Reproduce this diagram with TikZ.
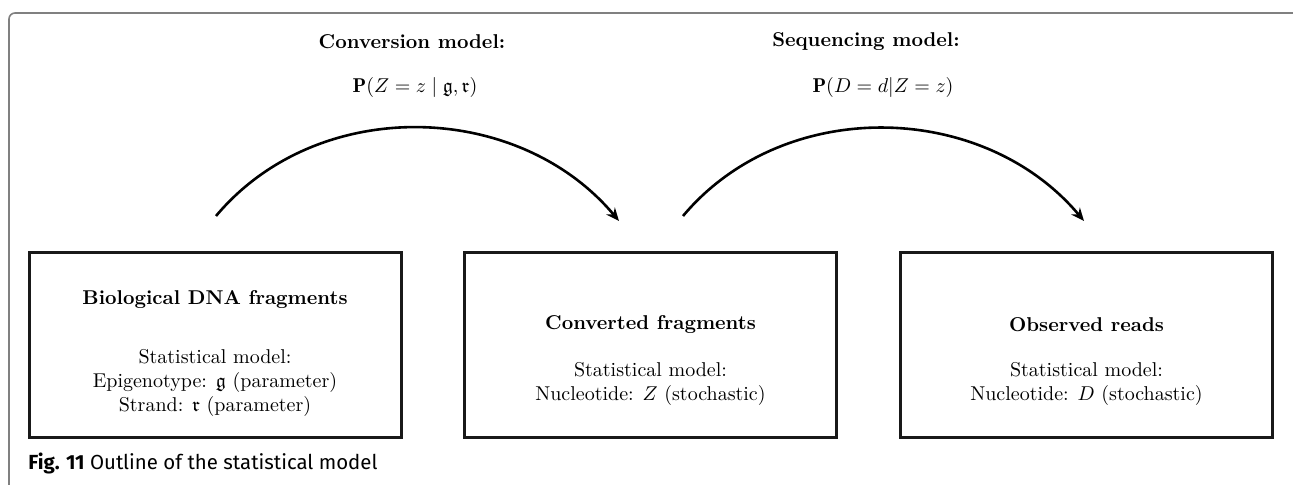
\documentclass[tikz,border=0pt]{standalone}
\usepackage{amsmath,amssymb}
\usepackage{fontspec}
\newfontfamily\capfont{Fira Sans}
\usetikzlibrary{arrows.meta}
\begin{document}
\begin{tikzpicture}[x=0.5pt,y=-0.5pt,
  modelbox/.style={draw=black!90,line width=1.5pt,minimum width=186pt,minimum height=92pt,inner sep=0pt},
  flow/.style={line width=1.3pt,-{Stealth[length=6.5pt,width=5.5pt]}},
  frame/.style={draw=black!50,line width=0.8pt,rounded corners=3pt},
  boxtext/.style={align=center,font=\normalsize}]
\useasboundingbox (0,0) rectangle (1293,485);
\clip (0,0) rectangle (1293,485);
\draw[frame] (9,490) -- (9,13) -- (1299,13) -- (1299,490);
% boxes
\node[modelbox] (bio) at (215,345) {};
\node[modelbox] (conv) at (650.5,345) {};
\node[modelbox] (obs) at (1086.5,345) {};
% box texts
\node[font=\bfseries] (biot) at (215,300) {Biological DNA fragments};
\node[boxtext] (biom) at (215,383) {Statistical model:\\Epigenotype: $\mathfrak{g}$ (parameter)\\Strand: $\mathfrak{r}$ (parameter)};
\node[font=\bfseries] (convt) at (650.5,325) {Converted fragments};
\node[boxtext] (convm) at (650.5,384) {Statistical model:\\Nucleotide: $Z$ (stochastic)};
\node[font=\bfseries] (obst) at (1086.5,325) {Observed reads};
\node[boxtext] (obsm) at (1086.5,384) {Statistical model:\\Nucleotide: $D$ (stochastic)};
% model labels
\node[font=\bfseries] (cl) at (412,42) {Conversion model:};
\node (cp) at (415,88) {$\mathbf{P}(Z = z \mid \mathfrak{g}, \mathfrak{r})$};
\node[font=\bfseries] (sl) at (866,42) {Sequencing model:};
\node (sp) at (883,88) {$\mathbf{P}(D = d | Z = z)$};
% arcs
\coordinate (a1s) at (216,216);
\coordinate (a1e) at (619,221);
\coordinate (a2s) at (683,216);
\coordinate (a2e) at (1084,221);
\draw[flow] (a1s) to[out=50,in=130] (a1e);
\draw[flow] (a2s) to[out=50,in=130] (a2e);
% caption
\node[anchor=west,font=\capfont\fontsize{10.2}{12}\selectfont,inner sep=0pt] (cap) at (28,463) {\textbf{Fig. 11} Outline of the statistical model};
\end{tikzpicture}
\end{document}
